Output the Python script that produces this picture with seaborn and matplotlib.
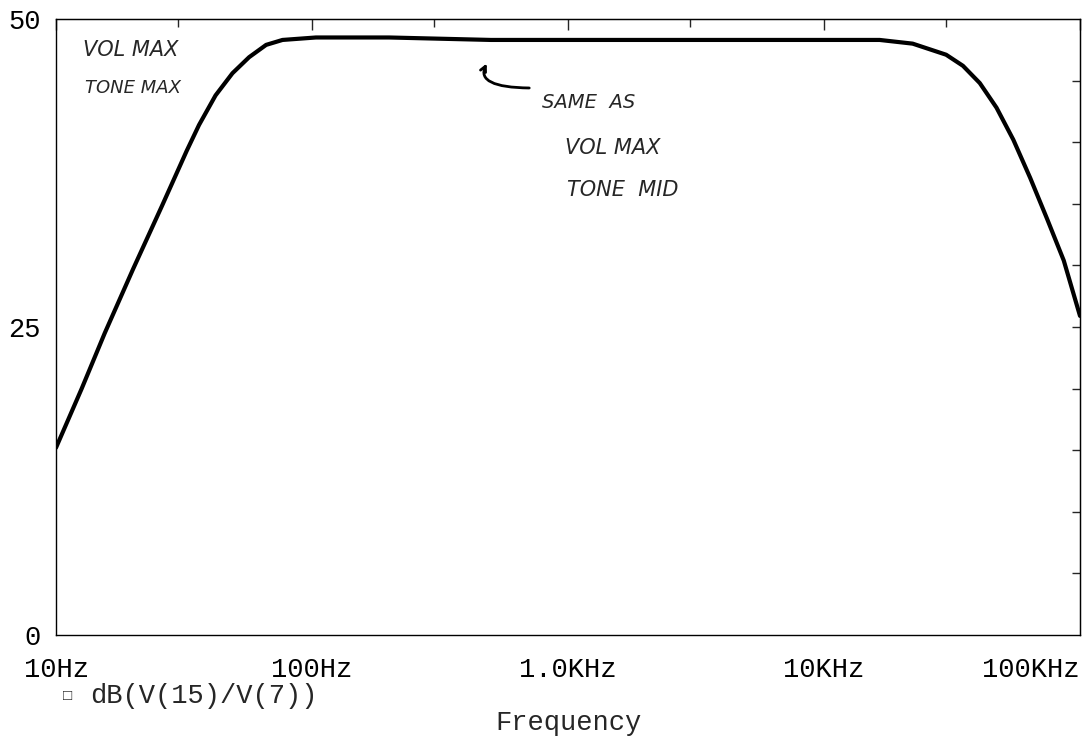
import numpy as np
import pandas as pd
import seaborn as sns
import matplotlib
matplotlib.use("Agg")
import matplotlib.pyplot as plt
from matplotlib.ticker import FixedLocator, NullFormatter

# ---- data ----
freq_hz = [10, 12.6, 15.5, 20.0, 25.9, 32.4, 36.2, 42.0, 48.9, 56.8, 66.2, 76.7,
           103.6, 200, 500, 1000, 2000, 5000, 10000, 16500, 22200, 30000,
           34900, 40600, 47200, 54900, 63900, 74300, 86400, 100000]
gain_db = [15.2, 20.0, 24.5, 29.7, 34.8, 39.3, 41.4, 43.8, 45.6, 46.9, 47.9, 48.3,
           48.5, 48.5, 48.3, 48.3, 48.3, 48.3, 48.3, 48.3, 48.0, 47.1,
           46.2, 44.8, 42.8, 40.2, 37.1, 33.8, 30.4, 25.9]
xtick_vals = [10, 100, 1000, 10000, 100000]
xtick_labels = ["10Hz", "100Hz", "1.0KHz", "10KHz", "100KHz"]
ytick_vals = [0, 25, 50]
ytick_labels = ["0", "25", "50"]
trace_name = "dB(V(15)/V(7))"
x_title = "Frequency"

df = pd.DataFrame({"freq": freq_hz, "db": gain_db})

sns.set_style("white")
mono = ["Liberation Mono", "DejaVu Sans Mono"]
plt.rcParams["font.family"] = mono

fig = plt.figure(figsize=(10.82, 7.36), dpi=100)
ax = fig.add_axes([56 / 1082, 101 / 736, 1024 / 1082, 616 / 736])

sns.lineplot(data=df, x="freq", y="db", ax=ax, color="black", linewidth=3.0,
             sort=True, legend=False)
ax.set_xscale("log")
ax.set_xlim(10, 100000)
ax.set_ylim(0, 50)

for s in ax.spines.values():
    s.set_color("black")
    s.set_linewidth(1.0)

# x ticks
ax.xaxis.set_major_locator(FixedLocator(xtick_vals))
ax.set_xticklabels(xtick_labels)
minor_x = [3 * v for v in xtick_vals[:-1]]
ax.xaxis.set_minor_locator(FixedLocator(minor_x))
ax.xaxis.set_minor_formatter(NullFormatter())
ax.tick_params(axis="x", which="major", direction="inout", length=14, width=1,
               labelsize=19.5, pad=8.5, colors="black")
ax.tick_params(axis="x", which="minor", direction="in", length=6, width=1)
labs = ax.get_xticklabels()
labs[-1].set_horizontalalignment("right")

# y ticks
ax.yaxis.set_major_locator(FixedLocator(ytick_vals))
ax.set_yticklabels(ytick_labels)
ax.yaxis.set_minor_locator(FixedLocator([5, 10, 15, 20, 30, 35, 40, 45]))
ax.tick_params(axis="y", which="major", direction="inout", length=18, width=1,
               labelsize=19.5, pad=2, colors="black")
ax.tick_params(axis="y", which="minor", direction="in", length=6, width=1)

# top / right inward ticks
top = ax.secondary_xaxis("top")
top.xaxis.set_major_locator(FixedLocator(xtick_vals))
top.xaxis.set_minor_locator(FixedLocator(minor_x))
top.xaxis.set_major_formatter(NullFormatter())
top.xaxis.set_minor_formatter(NullFormatter())
top.tick_params(which="major", direction="in", length=8, width=1)
top.tick_params(which="minor", direction="in", length=6, width=1)
right = ax.secondary_yaxis("right")
right.yaxis.set_major_locator(FixedLocator([5, 10, 15, 20, 25, 30, 35, 40, 45]))
right.yaxis.set_major_formatter(NullFormatter())
right.tick_params(which="major", direction="in", length=6, width=1)
right.yaxis.set_minor_locator(FixedLocator([]))

ax.set_xlabel("")
ax.set_ylabel("")

# legend-like trace label and x title
fig.text(63 / 1082, 1 - 696 / 736, "\u25a1", fontsize=11, family=mono,
         ha="left", va="center")
fig.text(90 / 1082, 1 - 696 / 736, trace_name, fontsize=19.5, family=mono,
         ha="left", va="center")
fig.text(569 / 1082, 1 - 723 / 736, x_title, fontsize=19.5, family=mono,
         ha="center", va="center")

# handwritten-style annotations
hand = ["DejaVu Sans"]
ax.text((83 - 56) / 1024, (635 - 50) / 616, "VOL MAX", transform=ax.transAxes,
        fontsize=15, family=hand, style="italic", ha="left", va="center")
ax.text((85 - 56) / 1024, (635 - 88) / 616, "TONE MAX", transform=ax.transAxes,
        fontsize=13, family=hand, style="italic", ha="left", va="center")
ax.text((542 - 56) / 1024, (635 - 102) / 616, "SAME  AS", transform=ax.transAxes,
        fontsize=14, family=hand, style="italic", ha="left", va="center")
ax.text((565 - 56) / 1024, (635 - 148) / 616, "VOL MAX", transform=ax.transAxes,
        fontsize=15, family=hand, style="italic", ha="left", va="center")
ax.text((567 - 56) / 1024, (635 - 190) / 616, "TONE  MID", transform=ax.transAxes,
        fontsize=15, family=hand, style="italic", ha="left", va="center")
ax.annotate("", xy=((488 - 56) / 1024, (635 - 61) / 616),
            xytext=((532 - 56) / 1024, (635 - 88) / 616),
            xycoords="axes fraction", textcoords="axes fraction",
            arrowprops=dict(arrowstyle="->", color="black", lw=2,
                            connectionstyle="angle3,angleA=0,angleB=60"))

fig.savefig("out.png", dpi=100, facecolor="white")
